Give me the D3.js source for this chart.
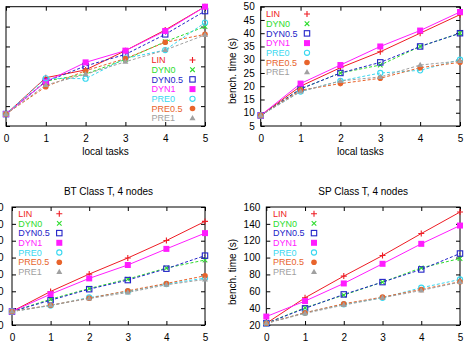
<!DOCTYPE html>
<html><head><meta charset="utf-8">
<script src="https://cdn.jsdelivr.net/npm/d3@7"></script>
<style>
body{margin:0;background:#fff}
svg{display:block}
text{font-family:"Liberation Sans",Arial,sans-serif;font-size:10px}
</style>
</head><body>
<svg id="c" width="469" height="343"></svg>
<script>
// ---------------- data ----------------
const tasks = [0, 1, 2, 3, 4, 5];
const seriesNames = ["LIN", "DYN0", "DYN0.5", "DYN1", "PRE0", "PRE0.5", "PRE1"];

// top-left panel (y tick labels cut off in the reference)
const topLeftTimes = [
  [6, 24.3, 28.2, 37.9, 48.3, 60],
  [6, 22.6, 26.1, 33.5, 42.4, 50],
  [6, 22.3, 30.2, 36.0, 46.1, 57.8],
  [6, 22.3, 32.0, 37.9, 47.8, 60],
  [6, 24.0, 23.8, 34.0, 38.2, 52],
  [6, 19.8, 27.8, 33.9, 42.1, 46.1],
  [6, 20.6, 26.0, 32.3, 38.2, 45.8]
];
// top-right panel
const topRightTimes = [
  [9, 20, 27, 33, 40, 47],
  [9, 19, 25, 28, 35, 40],
  [9, 19, 25, 29, 35, 40],
  [9, 21, 28, 35, 41, 48],
  [9, 18, 22, 25, 26, 30],
  [9, 18.5, 21, 23, 27, 29],
  [9, 18, 22, 23.5, 28, 29.5]
];
// BT Class T, 4 nodes
const btTimes = [
  [16, 39.8, 60.4, 79.5, 100.2, 122.9],
  [16, 30.6, 43.3, 54.5, 67.6, 77.1],
  [16, 29.4, 42.5, 53.3, 66.8, 82.3],
  [16, 36.6, 55.3, 71.2, 90.3, 109],
  [16, 23.0, 32.6, 39.8, 48.5, 55.7],
  [16, 23.5, 31.8, 40.6, 49.3, 58.4],
  [16, 23.5, 31.4, 38.6, 47.7, 54.1]
];
// SP Class T, 4 nodes
const spTimes = [
  [22, 52.3, 78, 102.4, 128.5, 154],
  [22, 40.5, 55.5, 70.9, 87.8, 98.9],
  [22, 39.7, 56.3, 70.9, 85.9, 104.8],
  [30, 48.4, 69.3, 92.6, 116.3, 138],
  [22, 34.6, 44.5, 52.3, 64.2, 74],
  [22, 34.6, 45.2, 53.1, 62.2, 71.3],
  [22, 33.8, 43.7, 52.3, 61.0, 70.9]
];

const yTicksTopLeft = [0, 10, 20, 30, 40, 50, 60];
const yTicksTopRight = [5, 10, 15, 20, 25, 30, 35, 40, 45, 50];
const yTicksBT = [0, 20, 40, 60, 80, 100, 120, 140];
const yTicksSP = [20, 40, 60, 80, 100, 120, 140, 160];

const titleBT = "BT Class T, 4 nodes";
const titleSP = "SP Class T, 4 nodes";
const xLabel = "local tasks";
const yLabel = "bench. time (s)";

// ---------------- styles ----------------
const colors = {
  "LIN": "#ee1c24", "DYN0": "#2edc2e", "DYN0.5": "#2323c8", "DYN1": "#ff1cff",
  "PRE0": "#3ad8f0", "PRE0.5": "#e8642c", "PRE1": "#a0a0a0"
};
const dashes = {
  "LIN": null, "DYN0": "3,2", "DYN0.5": "3,2", "DYN1": null,
  "PRE0": "3,2", "PRE0.5": "3,2", "PRE1": "3,2"
};

const svg = d3.select("#c");

function marker(g, name, x, y) {
  const c = colors[name];
  switch (name) {
    case "LIN":
      g.append("path").attr("d", `M${x-3},${y}H${x+3}M${x},${y-3}V${y+3}`)
        .attr("stroke", c).attr("stroke-width", 1.1).attr("fill", "none"); break;
    case "DYN0":
      g.append("path").attr("d", `M${x-2.3},${y-2.3}L${x+2.3},${y+2.3}M${x-2.3},${y+2.3}L${x+2.3},${y-2.3}`)
        .attr("stroke", c).attr("stroke-width", 1.1).attr("fill", "none"); break;
    case "DYN0.5":
      g.append("rect").attr("x", x-2.7).attr("y", y-2.7).attr("width", 5.4).attr("height", 5.4)
        .attr("stroke", c).attr("stroke-width", 1.1).attr("fill", "none"); break;
    case "DYN1":
      g.append("rect").attr("x", x-3).attr("y", y-3).attr("width", 6).attr("height", 6)
        .attr("fill", c); break;
    case "PRE0":
      g.append("circle").attr("cx", x).attr("cy", y).attr("r", 2.6)
        .attr("stroke", c).attr("stroke-width", 1.1).attr("fill", "none"); break;
    case "PRE0.5":
      g.append("circle").attr("cx", x).attr("cy", y).attr("r", 2.8).attr("fill", c); break;
    case "PRE1":
      g.append("path").attr("d", `M${x},${y-3.2}L${x+3},${y+2}L${x-3},${y+2}Z`).attr("fill", c); break;
  }
}

function panel(cfg) {
  const {left, right, top, bottom, yTicks, data, legend, title, showYLabels, yPad, xLab} = cfg;
  const x = d3.scaleLinear().domain([0, 5]).range([left, right]);
  const y = d3.scaleLinear().domain([yTicks[0], yTicks[yTicks.length - 1]]).range([bottom, top]);
  const g = svg.append("g");

  // frame
  g.append("rect").attr("x", left).attr("y", top).attr("width", right - left).attr("height", bottom - top)
    .attr("fill", "none").attr("stroke", "#000").attr("stroke-width", 1);

  // axes with inward ticks (mirrored on all sides)
  const ax = (axis, tr) => {
    const a = g.append("g").attr("transform", tr).call(axis);
    a.select(".domain").remove();
    a.selectAll("line").attr("stroke", "#000");
    a.selectAll("text").attr("fill", "#000").style("font-size", "10px");
    return a;
  };
  ax(d3.axisBottom(x).tickValues(tasks).tickSize(-4).tickPadding(9).tickFormat(d3.format("d")), `translate(0,${bottom})`);
  ax(d3.axisTop(x).tickValues(tasks).tickSize(-4).tickFormat(""), `translate(0,${top})`);
  ax(d3.axisLeft(y).tickValues(yTicks).tickSize(-4).tickPadding(yPad || 6)
      .tickFormat(showYLabels ? d3.format("d") : ""), `translate(${left},0)`);
  ax(d3.axisRight(y).tickValues(yTicks).tickSize(-4).tickFormat(""), `translate(${right},0)`);

  // lines
  const line = d3.line().x((d, i) => x(tasks[i])).y(d => y(d));
  seriesNames.forEach((name, si) => {
    g.append("path").datum(data[si]).attr("d", line).attr("fill", "none")
      .attr("stroke", colors[name]).attr("stroke-width", 1)
      .attr("stroke-dasharray", dashes[name]);
  });
  seriesNames.forEach((name, si) => {
    data[si].forEach((v, i) => marker(g, name, x(tasks[i]), y(v)));
  });

  // legend
  seriesNames.forEach((name, si) => {
    const ly = legend.y + si * 9.7;
    g.append("text").attr("x", legend.x).attr("y", ly).attr("dy", "0.35em")
      .attr("fill", colors[name]).style("font-size", "9px").text(name);
    marker(g, name, legend.x + 41, ly);
  });

  if (title) {
    g.append("text").attr("x", (left + right) / 2).attr("y", top - 12)
      .attr("text-anchor", "middle").attr("fill", "#000").style("font-size", "10px").text(title);
  }
  if (xLab) {
    g.append("text").attr("x", (left + right) / 2).attr("y", bottom + 29)
      .attr("text-anchor", "middle").attr("fill", "#000").style("font-size", "10px").text(xLabel);
  }
}

panel({left: 6, right: 205, top: 6.7, bottom: 126, yTicks: yTicksTopLeft, data: topLeftTimes,
  legend: {x: 151.5, y: 60}, showYLabels: false, xLab: true});
panel({left: 260.7, right: 460, top: 6.7, bottom: 126, yTicks: yTicksTopRight, data: topRightTimes,
  legend: {x: 266, y: 14}, showYLabels: true, xLab: true});
panel({left: 12, right: 205, top: 207, bottom: 325, yTicks: yTicksBT, data: btTimes,
  legend: {x: 18.3, y: 213.7}, showYLabels: true, yPad: 8.5, title: titleBT});
panel({left: 266.3, right: 460, top: 207, bottom: 325, yTicks: yTicksSP, data: spTimes,
  legend: {x: 273, y: 213.7}, showYLabels: true, title: titleSP});

// y-axis titles of the right-hand charts sit in the gap between the columns
[[232, 71], [232, 272]].forEach(p => {
  svg.append("text").attr("transform", `translate(${p[0]},${p[1]}) rotate(-90)`)
    .attr("text-anchor", "middle").attr("dy", "0.35em").attr("fill", "#000")
    .style("font-size", "10px").text(yLabel);
});
</script>
</body></html>
